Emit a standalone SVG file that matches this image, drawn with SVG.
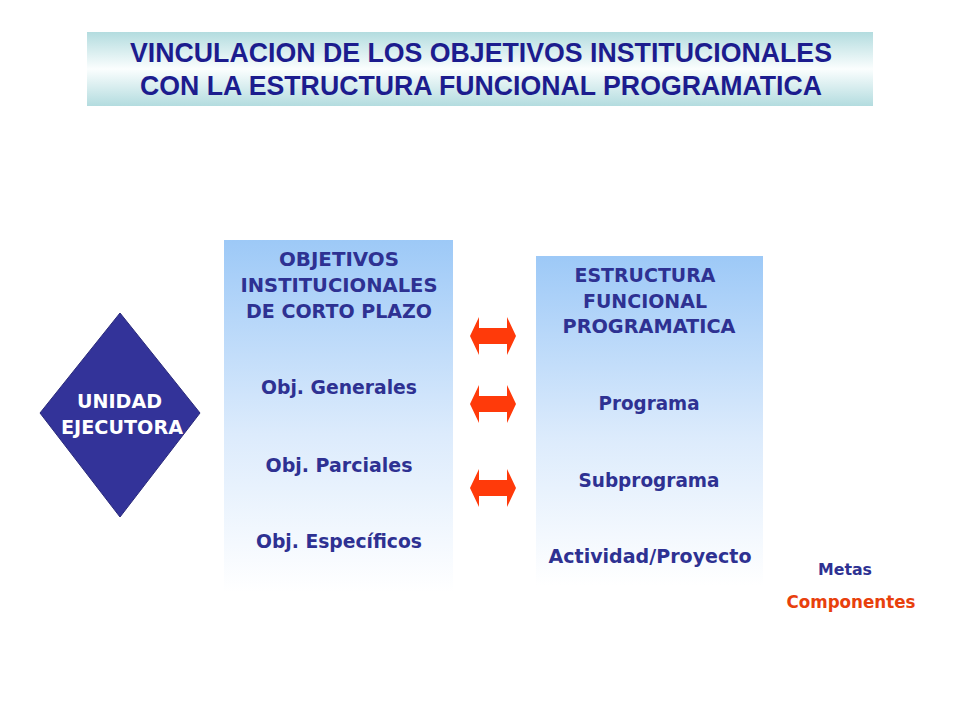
<svg xmlns="http://www.w3.org/2000/svg" width="960" height="720" viewBox="0 0 960 720">
  <defs>
    <linearGradient id="titleGrad" x1="0" y1="0" x2="0" y2="1">
      <stop offset="0" stop-color="#b3dcdf"/>
      <stop offset="0.5" stop-color="#fbfefe"/>
      <stop offset="1" stop-color="#b3dcdf"/>
    </linearGradient>
    <linearGradient id="boxGrad" x1="0" y1="0" x2="0" y2="1">
      <stop offset="0" stop-color="#9dc9f7"/>
      <stop offset="0.55" stop-color="#dcebfc"/>
      <stop offset="1" stop-color="#ffffff"/>
    </linearGradient>
    <style>
      .title { font-family: "Liberation Sans", Arial, sans-serif; font-weight: bold; font-size: 27px; fill: #1c1c8e; text-anchor: middle; }
      .box { font-family: "DejaVu Sans", Verdana, sans-serif; font-weight: bold; font-size: 20px; fill: #2e3192; text-anchor: middle; }
      .diam { font-family: "DejaVu Sans", Verdana, sans-serif; font-weight: bold; font-size: 20px; fill: #ffffff; }
      .arrow { fill: #ff3a0a; }
    </style>
  </defs>
  <rect width="960" height="720" fill="#ffffff"/>

  <g id="title">
    <rect x="87" y="32" width="786" height="74" fill="url(#titleGrad)"/>
    <text class="title" x="481" y="62" textLength="702" lengthAdjust="spacingAndGlyphs">VINCULACION DE LOS OBJETIVOS INSTITUCIONALES</text>
    <text class="title" x="481" y="95" textLength="682" lengthAdjust="spacingAndGlyphs">CON LA ESTRUCTURA FUNCIONAL PROGRAMATICA</text>
  </g>

  <g id="unidad-ejecutora">
    <polygon points="120,313 200,413 120,517 40,413" fill="#333399" stroke="#2a2a7a" stroke-width="1"/>
    <text class="diam" x="77" y="408" textLength="85" lengthAdjust="spacingAndGlyphs">UNIDAD</text>
    <text class="diam" x="61" y="434" textLength="122" lengthAdjust="spacingAndGlyphs">EJECUTORA</text>
  </g>

  <g id="objetivos">
    <rect x="224" y="240" width="229" height="352" fill="url(#boxGrad)"/>
    <text class="box" x="339" y="266" textLength="120" lengthAdjust="spacingAndGlyphs">OBJETIVOS</text>
    <text class="box" x="339" y="292" textLength="197" lengthAdjust="spacingAndGlyphs">INSTITUCIONALES</text>
    <text class="box" x="339" y="318" textLength="186" lengthAdjust="spacingAndGlyphs">DE CORTO PLAZO</text>
    <text class="box" x="339" y="394" textLength="156" lengthAdjust="spacingAndGlyphs">Obj. Generales</text>
    <text class="box" x="339" y="472" textLength="147" lengthAdjust="spacingAndGlyphs">Obj. Parciales</text>
    <text class="box" x="339" y="548" textLength="166" lengthAdjust="spacingAndGlyphs">Obj. Específicos</text>
  </g>

  <g id="estructura">
    <rect x="536" y="256" width="227" height="330" fill="url(#boxGrad)"/>
    <text class="box" x="645" y="282" textLength="141" lengthAdjust="spacingAndGlyphs">ESTRUCTURA</text>
    <text class="box" x="645" y="308" textLength="124" lengthAdjust="spacingAndGlyphs">FUNCIONAL</text>
    <text class="box" x="649" y="333" textLength="173" lengthAdjust="spacingAndGlyphs">PROGRAMATICA</text>
    <text class="box" x="649" y="410" textLength="101" lengthAdjust="spacingAndGlyphs">Programa</text>
    <text class="box" x="649" y="487" textLength="141" lengthAdjust="spacingAndGlyphs">Subprograma</text>
    <text class="box" x="650" y="563" textLength="203" lengthAdjust="spacingAndGlyphs">Actividad/Proyecto</text>
  </g>

  <g id="metas">
    <text class="box" x="845" y="575" style="font-size:16px" textLength="54" lengthAdjust="spacingAndGlyphs">Metas</text>
  </g>
  <g id="componentes">
    <text class="box" x="851" y="608" style="font-size:17px;fill:#e8400c" textLength="129" lengthAdjust="spacingAndGlyphs">Componentes</text>
  </g>

  <g id="connectors">
    <polygon class="arrow" points="470,336 479,317 479,328 507,328 507,317 516,336 507,355 507,344 479,344 479,355"/>
    <polygon class="arrow" points="470,404 479,385 479,396 507,396 507,385 516,404 507,423 507,412 479,412 479,423"/>
    <polygon class="arrow" points="470,488 479,469 479,480 507,480 507,469 516,488 507,507 507,496 479,496 479,507"/>
  </g>
</svg>
